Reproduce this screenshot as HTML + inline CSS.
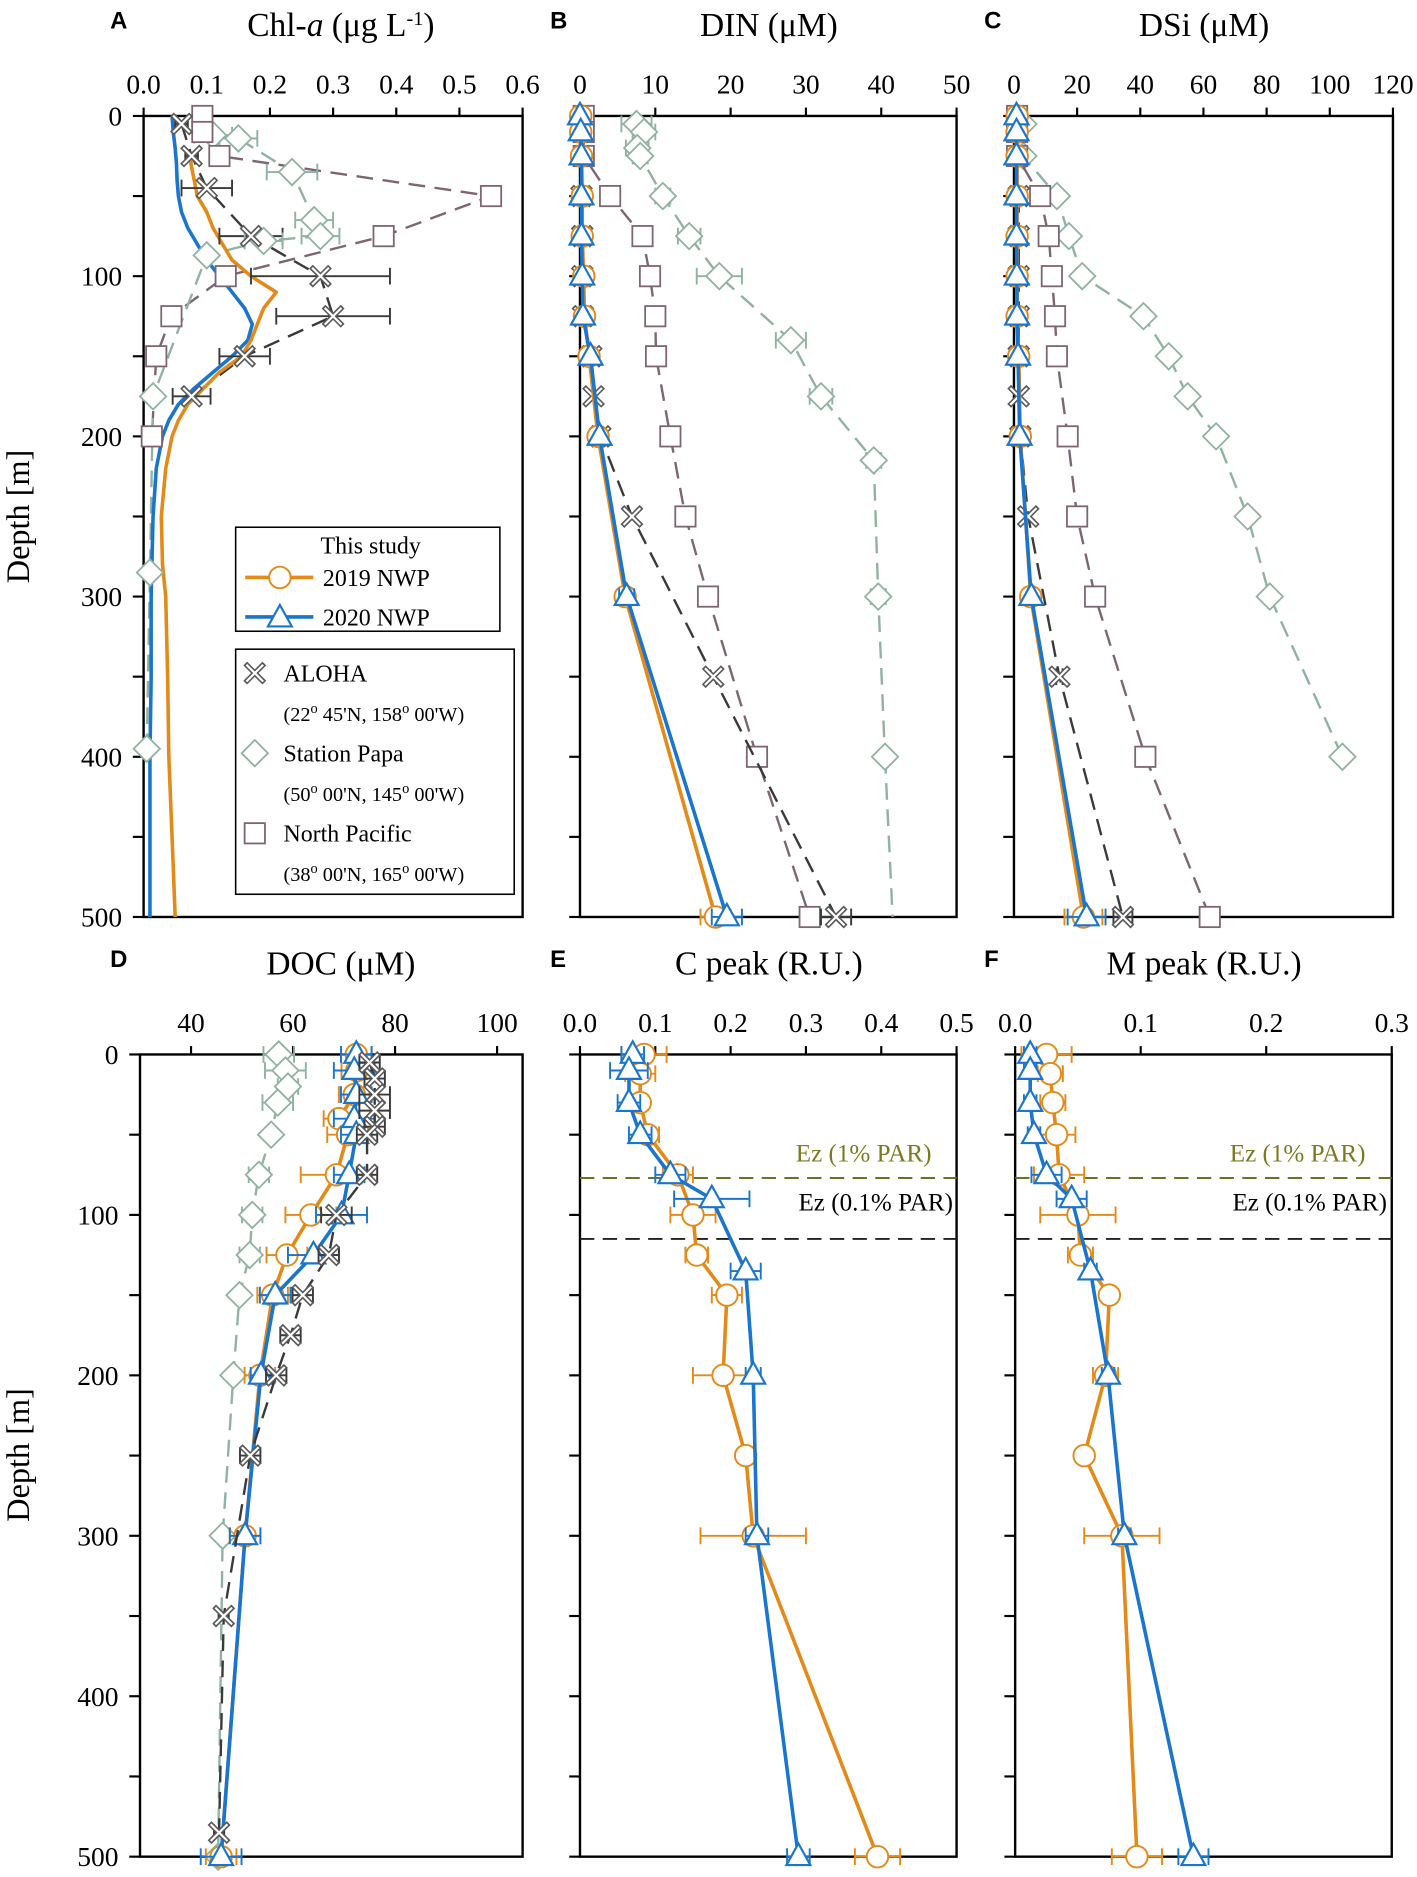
<!DOCTYPE html>
<html><head><meta charset="utf-8"><style>
html,body{margin:0;padding:0;background:#fff;}
svg{display:block;font-family:"Liberation Serif",serif;}
</style></head><body>
<svg id="fig" xmlns="http://www.w3.org/2000/svg" width="1417" height="1877" viewBox="0 0 1185 1570">
</svg>
<script>
// ---------- DATA ----------
const depthTicks=[0,100,200,300,400,500];
// Panel A Chl-a
const chlTicks=[0.0,0.1,0.2,0.3,0.4,0.5,0.6];
const chl19Depth=[25,30,40,50,60,70,80,90,100,105,110,115,120,130,140,150,160,170,180,190,200,220,250,280,300,350,400,450,500];
const chl19=[0.075,0.075,0.08,0.085,0.1,0.11,0.125,0.14,0.17,0.19,0.21,0.2,0.19,0.18,0.17,0.155,0.12,0.095,0.07,0.055,0.045,0.035,0.028,0.03,0.035,0.038,0.04,0.045,0.05];
const chl20Depth=[0,10,20,30,40,50,60,70,80,90,100,110,120,130,140,150,160,170,180,190,200,220,250,300,350,400,450,500];
const chl20=[0.045,0.047,0.05,0.052,0.053,0.055,0.06,0.07,0.085,0.1,0.12,0.14,0.16,0.172,0.165,0.14,0.11,0.08,0.055,0.04,0.03,0.02,0.015,0.012,0.012,0.01,0.01,0.01];
const chlAlohaDepth=[5,25,45,75,100,125,150,175];
const chlAloha=[0.06,0.076,0.1,0.17,0.28,0.3,0.16,0.076];
const chlAlohaErr=[0.01,0.01,0.04,0.05,0.11,0.09,0.04,0.03];
const chlPapaDepth=[12,14,35,65,75,78,87,175,285,395];
const chlPapa=[0.11,0.15,0.235,0.27,0.28,0.19,0.10,0.015,0.01,0.005];
const chlPapaErr=[0.03,0.03,0.04,0.03,0.03,0.03,0.0,0.0,0.0,0.0];
const chlNPDepth=[0,10,25,50,75,100,125,150,200];
const chlNP=[0.093,0.093,0.12,0.55,0.38,0.13,0.044,0.02,0.013];
// Panel B DIN
const dinTicks=[0,10,20,30,40,50];
const dinDepth=[0,10,25,50,75,100,125,150,200,300,500];
const din19=[0.1,0.1,0.2,0.3,0.3,0.5,0.6,1.2,2.4,6,18];
const din19Err=[0,0,0,0,0,0,0,0,0,0.8,2];
const din20=[0,0.1,0.2,0.2,0.2,0.3,0.4,1.4,2.6,6.2,19.5];
const din20Err=[0,0,0,0,0,0,0,0,0,1,2];
const dinAlohaDepth=[50,75,100,125,150,175,200,250,350,500];
const dinAloha=[0.2,0.3,0.3,0.4,1.5,1.8,2.7,6.9,17.7,34];
const dinAlohaErr=[0,0,0,0,0,0,0,0,0,2];
const dinPapaDepth=[5,10,20,25,50,75,100,140,175,215,300,400];
const dinPapa=[7.5,8.5,7.6,8,11,14.5,18.5,28,32,39,39.6,40.5];
const dinPapaErr=[2,1.5,1.5,1,1,1.5,3,2,1.5,1,1,0];
const dinPapaEndDepth=[400,500];
const dinPapaEnd=[40.5,41.5];
const dinNPDepth=[0,10,25,50,75,100,125,150,200,250,300,400,500];
const dinNP=[0.5,0.5,0.5,4,8.3,9.3,10,10.1,12,14,17,23.5,30.5];
// Panel C DSi
const dsiTicks=[0,20,40,60,80,100,120];
const dsi19=[1,1,1,1,1,1,1,1.5,2,5.3,22];
const dsi19Err=[0,0,0,0,0,0,0,0,0,1,6];
const dsi20=[0.8,0.8,0.8,0.8,0.8,0.9,1,1.3,1.8,5.5,23];
const dsi20Err=[0,0,0,0,0,0,0,0,0,1,6];
const dsiAlohaDepth=[50,75,100,125,150,175,200,250,350,500];
const dsiAloha=[1.5,1.5,1.5,1.5,1.5,1.5,2,4.5,14.4,34.5];
const dsiAlohaErr=[0,0,0,0,0,0,0,0,1,3];
const dsiPapaDepth=[5,25,50,75,100,125,150,175,200,250,300,400];
const dsiPapa=[3,3,13.6,17.4,21.6,41,49,55,64,74,81,104];
const dsiNPDepth=[0,10,25,50,75,100,125,150,200,250,300,400,500];
const dsiNP=[1,1,1,8.3,11,12,13,13.6,17,20,25.7,41.6,62];
// Panel D DOC
const docTicks=[40,60,80,100];
const docDepth=[0,10,25,40,50,75,100,125,150,200,300,500];
const doc19=[72.4,72.5,72,69,70.7,68.5,63.5,58.8,56,53.5,50.6,45.9];
const doc19Err=[3,3,3,3,4,7,5,4,3,3,3,3];
const doc20=[72.4,72,72.4,72,72.4,71,69.5,64,56.5,53.7,50.6,45.9];
const doc20Err=[3,4,3,4,3,3,5,5,3,2,3,4];
const docAlohaDepth=[5,15,25,35,45,50,75,100,125,150,175,200,250,350,485];
const docAloha=[75,76,76,76,76,74.5,74.5,68.5,67,61.9,59.5,56.7,51.6,46.4,45.5];
const docAlohaErr=[2,2,3,3,2,2,2,3,2,2,2,2,2,1,1];
const docPapaDepth=[0,10,20,30,50,75,100,125,150,200,300,500];
const docPapa=[57.2,58.5,59,57,55.7,53.3,52,51.5,49.5,48.3,46.2,45.3];
const docPapaErr=[3,4,2,3,1,2,2,2,1,1,1,0];
// Panel E C peak
const cpTicks=[0.0,0.1,0.2,0.3,0.4,0.5];
const peak19Depth=[0,12,30,50,75,100,125,150,200,250,300,500];
const cpeak19=[0.085,0.08,0.08,0.09,0.13,0.15,0.155,0.195,0.19,0.22,0.23,0.395];
const cpeak19Err=[0.03,0.02,0.01,0.015,0.02,0.03,0.015,0.02,0.04,0,0.07,0.03];
const peak20Depth=[0,10,30,50,75,90,135,200,300,500];
const cpeak20=[0.07,0.065,0.065,0.08,0.12,0.175,0.22,0.23,0.235,0.29];
const cpeak20Err=[0.015,0.025,0.015,0.015,0.02,0.05,0.02,0.01,0.015,0.015];
// Panel F M peak
const mpTicks=[0.0,0.1,0.2,0.3];
const mpeak19=[0.025,0.028,0.03,0.033,0.035,0.05,0.052,0.075,0.072,0.055,0.085,0.097];
const mpeak19Err=[0.02,0.01,0.01,0.015,0.02,0.03,0.01,0.005,0.01,0.005,0.03,0.02];
const mpeak20=[0.012,0.012,0.012,0.015,0.025,0.045,0.06,0.074,0.087,0.142];
const mpeak20Err=[0.005,0.005,0.005,0.005,0.012,0.012,0.005,0.005,0.005,0.012];
const ezDepths=[77,115];
const ezLabels=["Ez (1% PAR)","Ez (0.1% PAR)"];

// ---------- DRAWING ----------
const NS="http://www.w3.org/2000/svg";
const svg=document.getElementById('fig');
const C19="#e48a18",C20="#1a75cf",CAL="#3a3a3a",CPA="#8fb3a0",CNP="#7d6573";
function mk(tag,attrs,parent){const e=document.createElementNS(NS,tag);for(const k in attrs)e.setAttribute(k,attrs[k]);(parent||svg).appendChild(e);return e;}
function panel(name,x0,x1,y0,y1,vmin,vmax){
  const g=mk('g',{});
  
  
  return {g,x:v=>x0+(v-vmin)/(vmax-vmin)*(x1-x0),y:d=>y0+d/500*(y1-y0),x0,x1,y0,y1};
}
function frame(P,ticks,fmt,showDepthLabels,title,letter,letterX,titleX,titleY){
  const f=mk('rect',{x:P.x0,y:P.y0,width:P.x1-P.x0,height:P.y1-P.y0,fill:'none',stroke:'#000','stroke-width':2},P.g);
  
  
  ticks.forEach(t=>{
    const xx=P.x(t);
    mk('line',{x1:xx,x2:xx,y1:P.y0,y2:P.y0-7,stroke:'#000','stroke-width':1.8},P.g);
    const tl=mk('text',{x:xx,y:P.y0-19,'text-anchor':'middle','font-size':23},P.g);
    tl.textContent=fmt(t);
    
    
  });
  for(let d=0;d<=500;d+=50){
    const yy=P.y(d);
    mk('line',{x1:P.x0,x2:P.x0-9,y1:yy,y2:yy,stroke:'#000','stroke-width':1.8},P.g);
    if(showDepthLabels&&d%100===0){
      const yl=mk('text',{x:P.x0-18,y:yy+8,'text-anchor':'end','font-size':23},P.g);
      yl.textContent=d;
      
      
    }
  }
  const tt=mk('text',{x:titleX,y:titleY,'text-anchor':'middle','font-size':28},P.g);
  tt.innerHTML=title;
  
  
  const lt=mk('text',{x:letterX,y:titleY-6,'font-size':20,'font-weight':'bold','font-family':'Liberation Sans, sans-serif'},P.g);
  lt.textContent=letter;
  
  
}
function line(P,vals,depths,color,w,dash,name){
  const pts=vals.map((v,i)=>P.x(v).toFixed(1)+','+P.y(depths[i]).toFixed(1)).join(' ');
  const l=mk('polyline',{points:pts,fill:'none',stroke:color,'stroke-width':w,'stroke-dasharray':dash||'none','stroke-linejoin':'round'},P.g);
  
  
}
function errs(P,vals,depths,err,color){
  vals.forEach((v,i)=>{const e=err[i];if(!e)return;const yy=P.y(depths[i]);
    const a=P.x(v-e),b=P.x(v+e);
    const g=mk('g',{stroke:color,'stroke-width':1.6},P.g);
    
    
    mk('line',{x1:a,x2:b,y1:yy,y2:yy},g);
    mk('line',{x1:a,x2:a,y1:yy-7,y2:yy+7},g);
    mk('line',{x1:b,x2:b,y1:yy-7,y2:yy+7},g);
  });
}
function marker(parent,type,cx,cy,color){
  let e;
  if(type==='circle') e=mk('circle',{cx:cx,cy:cy,r:9,fill:'#fff',stroke:color,'stroke-width':1.6},parent);
  else if(type==='tri') e=mk('polygon',{points:`${cx},${cy-11} ${cx-10},${cy+7} ${cx+10},${cy+7}`,fill:'#fff',stroke:color,'stroke-width':1.8},parent);
  else if(type==='diamond') e=mk('polygon',{points:`${cx},${cy-11} ${cx+11},${cy} ${cx},${cy+11} ${cx-11},${cy}`,fill:'#fff',stroke:color,'stroke-width':1.5},parent);
  else if(type==='square') e=mk('rect',{x:cx-8.5,y:cy-8.5,width:17,height:17,fill:'#fff',stroke:color,'stroke-width':1.5},parent);
  else {e=mk('g',{},parent);
    mk('path',{d:`M${cx-8},${cy-8}L${cx+8},${cy+8}M${cx+8},${cy-8}L${cx-8},${cy+8}`,stroke:'#5a5a5a','stroke-width':4.5},e);
    mk('path',{d:`M${cx-7},${cy-7}L${cx+7},${cy+7}M${cx+7},${cy-7}L${cx-7},${cy+7}`,stroke:'#fff','stroke-width':1.8},e);}
  return e;
}
function marks(P,vals,depths,type,color,name){
  vals.forEach((v,i)=>{const m=marker(P.g,type,P.x(v),P.y(depths[i]),color);
    
    });
}
function series(P,vals,depths,err,color,w,dash,type,name){
  line(P,vals,depths,color,w,dash,name+'-line');
  if(err) errs(P,vals,depths,err,color);
  marks(P,vals,depths,type,color,name+'-marker');
}
const f1=t=>t.toFixed(1), f0=t=>String(t);
const DASH='14 8';
// Panel A
const A=panel('panel-a-chl',120,437,97,767,0,0.6);
frame(A,chlTicks,f1,true,'Chl-<tspan font-style="italic">a</tspan> (μg L<tspan baseline-shift="super" font-size="17">-1</tspan>)','A',92,285,30);
line(A,chlNP,chlNPDepth,CNP,2,DASH,'north-pacific-line');
line(A,chlPapa,chlPapaDepth,CPA,2,DASH,'station-papa-line');
line(A,chlAloha,chlAlohaDepth,CAL,2,DASH,'aloha-line');
line(A,chl20,chl20Depth,C20,3,null,'nwp-2020-line');
line(A,chl19,chl19Depth,C19,3,null,'nwp-2019-line');
errs(A,chlAloha,chlAlohaDepth,chlAlohaErr,CAL);
errs(A,chlPapa,chlPapaDepth,chlPapaErr,CPA);
marks(A,chlPapa,chlPapaDepth,'diamond',CPA,'station-papa-marker');
marks(A,chlNP,chlNPDepth,'square',CNP,'north-pacific-marker');
marks(A,chlAloha,chlAlohaDepth,'x',CAL,'aloha-marker');
// legend
(function(){
  const L=mk('g',{});
  
  
  mk('rect',{x:197,y:441,width:221,height:87,fill:'#fff',stroke:'#000','stroke-width':1.3},L);
  mk('rect',{x:197,y:543,width:233,height:205,fill:'#fff',stroke:'#000','stroke-width':1.3},L);
  const t=(x,y,s,fs,name)=>{const e=mk('text',{x:x,y:y,'font-size':fs},L);e.innerHTML=s;return e;};
  t(268,463,'This study',20,'legend-title');
  mk('line',{x1:205,x2:262,y1:483,y2:483,stroke:C19,'stroke-width':3},L);marker(L,'circle',234,483,C19);
  t(270,490,'2019 NWP',20,'legend-entry-2019');
  mk('line',{x1:205,x2:262,y1:516,y2:516,stroke:C20,'stroke-width':3},L);marker(L,'tri',234,517,C20);
  t(270,523,'2020 NWP',20,'legend-entry-2020');
  marker(L,'x',213,563,CAL);t(237,570,'ALOHA',20,'legend-entry-aloha');
  t(237,603,'(22<tspan baseline-shift="super" font-size="12">o</tspan> 45\'N, 158<tspan baseline-shift="super" font-size="12">o</tspan> 00\'W)',17,'legend-coords-aloha');
  marker(L,'diamond',213,630,CPA);t(237,637,'Station Papa',20,'legend-entry-papa');
  t(237,670,'(50<tspan baseline-shift="super" font-size="12">o</tspan> 00\'N, 145<tspan baseline-shift="super" font-size="12">o</tspan> 00\'W)',17,'legend-coords-papa');
  marker(L,'square',213,697,CNP);t(237,704,'North Pacific',20,'legend-entry-np');
  t(237,737,'(38<tspan baseline-shift="super" font-size="12">o</tspan> 00\'N, 165<tspan baseline-shift="super" font-size="12">o</tspan> 00\'W)',17,'legend-coords-np');
})();
// Panel B
const B=panel('panel-b-din',485,800,97,767,0,50);
frame(B,dinTicks,f0,false,'DIN (μM)','B',460,643,30);
line(B,dinPapaEnd,dinPapaEndDepth,CPA,2,DASH,'station-papa-line');
series(B,dinPapa,dinPapaDepth,dinPapaErr,CPA,2,DASH,'diamond','station-papa');
series(B,dinNP,dinNPDepth,null,CNP,2,DASH,'square','north-pacific');
series(B,dinAloha,dinAlohaDepth,dinAlohaErr,CAL,2,DASH,'x','aloha');
series(B,din19,dinDepth,din19Err,C19,3,null,'circle','nwp-2019');
series(B,din20,dinDepth,din20Err,C20,3,null,'tri','nwp-2020');
// Panel C
const Cp=panel('panel-c-dsi',848,1165,97,767,0,120);
frame(Cp,dsiTicks,f0,false,'DSi (μM)','C',823,1007,30);
series(Cp,dsiPapa,dsiPapaDepth,null,CPA,2,DASH,'diamond','station-papa');
series(Cp,dsiNP,dsiNPDepth,null,CNP,2,DASH,'square','north-pacific');
series(Cp,dsiAloha,dsiAlohaDepth,dsiAlohaErr,CAL,2,DASH,'x','aloha');
series(Cp,dsi19,dinDepth,dsi19Err,C19,3,null,'circle','nwp-2019');
series(Cp,dsi20,dinDepth,dsi20Err,C20,3,null,'tri','nwp-2020');
// Panel D
const D=panel('panel-d-doc',117,437,882,1553,30,105);
frame(D,docTicks,f0,true,'DOC (μM)','D',92,285,815);
series(D,docPapa,docPapaDepth,docPapaErr,CPA,2,DASH,'diamond','station-papa');
series(D,doc19,docDepth,doc19Err,C19,3,null,'circle','nwp-2019');
series(D,doc20,docDepth,doc20Err,C20,3,null,'tri','nwp-2020');
series(D,docAloha,docAlohaDepth,docAlohaErr,CAL,2,DASH,'x','aloha');
// Panels E, F
function ez(P,rx){
  const cols=['#7a7a1e','#000'];
  ezDepths.forEach((d,i)=>{
    const yy=P.y(d);
    const l=mk('line',{x1:P.x0,x2:P.x1,y1:yy,y2:yy,stroke:i?'#222':'#6f7020','stroke-width':1.6,'stroke-dasharray':'12 7'},P.g);
    
    
    const t=mk('text',{x:rx-(i?0:18),y:yy-(i?24:14),'text-anchor':'end','font-size':21,fill:cols[i]},P.g);
    t.textContent=ezLabels[i];
    
    
  });
}
const E=panel('panel-e-cpeak',485,800,882,1553,0,0.5);
frame(E,cpTicks,f1,false,'C peak (R.U.)','E',460,643,815);
ez(E,797);
series(E,cpeak19,peak19Depth,cpeak19Err,C19,3,null,'circle','nwp-2019');
series(E,cpeak20,peak20Depth,cpeak20Err,C20,3,null,'tri','nwp-2020');
const F=panel('panel-f-mpeak',849,1164,882,1553,0,0.3);
frame(F,mpTicks,f1,false,'M peak (R.U.)','F',823,1007,815);
ez(F,1160);
series(F,mpeak19,peak19Depth,mpeak19Err,C19,3,null,'circle','nwp-2019');
series(F,mpeak20,peak20Depth,mpeak20Err,C20,3,null,'tri','nwp-2020');
// Depth labels
[432,1217].forEach(cy=>{
  const t=mk('text',{x:0,y:0,transform:`translate(24,${cy}) rotate(-90)`,'text-anchor':'middle','font-size':27});
  t.textContent='Depth [m]';
  
  
});
</script>
</body></html>
